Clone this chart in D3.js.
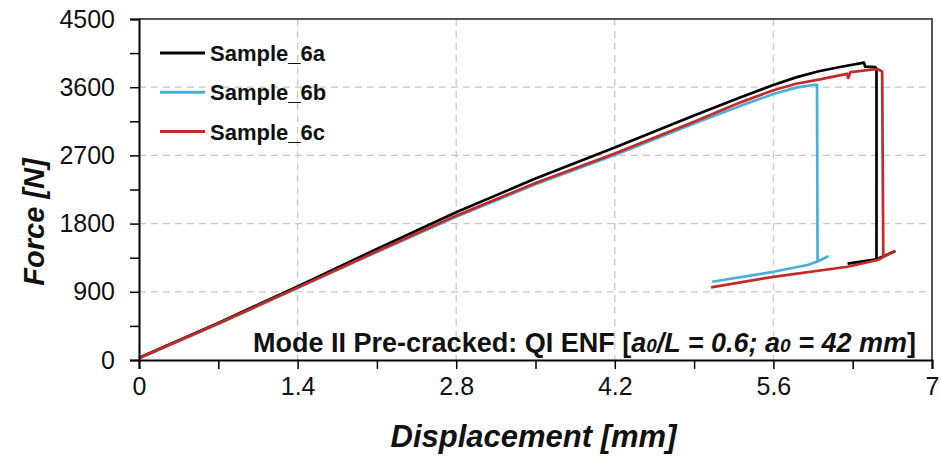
<!DOCTYPE html>
<html>
<head>
<meta charset="utf-8">
<script src="https://cdn.jsdelivr.net/npm/d3@7"></script>
<style>
  body { margin: 0; background: #fff; }
  svg { font-family: "Liberation Sans", Arial, sans-serif; }
</style>
</head>
<body>
<div id="chart"></div>
<script>
// Force-displacement data
const seriesNames = ["Sample_6a", "Sample_6b", "Sample_6c"];
const seriesColors = ["#000000", "#4aaedb", "#c42a26"];

const disp6a = [0, 0.7, 1.4, 2.1, 2.8, 3.5, 4.2, 4.9, 5.3, 5.6, 5.8, 6.0, 6.2, 6.4, 6.41, 6.5, 6.51, 6.51, 6.667, 6.51, 6.255];
const force6a = [30, 490, 970, 1465, 1950, 2395, 2805, 3225, 3460, 3630, 3730, 3810, 3870, 3925, 3872, 3866, 3835, 1330, 1432, 1330, 1272];

const disp6b = [0, 0.7, 1.4, 2.1, 2.8, 3.5, 4.2, 4.9, 5.3, 5.6, 5.8, 5.96, 5.985, 5.99, 6.08, 5.99, 5.9, 5.6, 5.06];
const force6b = [20, 475, 950, 1425, 1890, 2320, 2705, 3120, 3350, 3510, 3595, 3632, 3630, 1300, 1365, 1300, 1254, 1164, 1033];

const disp6c = [0, 0.7, 1.4, 2.1, 2.8, 3.5, 4.2, 4.9, 5.3, 5.6, 5.8, 6.0, 6.25, 6.26, 6.28, 6.52, 6.56, 6.57, 6.667, 6.57, 6.52, 6.255, 5.6, 5.05];
const force6c = [25, 482, 955, 1435, 1905, 2335, 2725, 3145, 3395, 3560, 3645, 3700, 3775, 3722, 3800, 3840, 3805, 1360, 1435, 1360, 1320, 1231, 1098, 959];

const xTicks = [0, 0.7, 1.4, 2.1, 2.8, 3.5, 4.2, 4.9, 5.6, 6.3, 7];
const yTicks = [0, 450, 900, 1350, 1800, 2250, 2700, 3150, 3600, 4050, 4500];
const xLabelled = [0, 1.4, 2.8, 4.2, 5.6, 7];
const yLabelled = [0, 900, 1800, 2700, 3600, 4500];

const annotation = "Mode II Pre-cracked: QI ENF";

// Set up chart dimensions and margins
const margin = { top: 19, right: 9, bottom: 98, left: 139 };
const width = 941 - margin.left - margin.right;
const height = 458 - margin.top - margin.bottom;

const root = d3.select("#chart")
    .append("svg")
    .attr("width", 941)
    .attr("height", 458);

const svg = root.append("g")
    .attr("transform", `translate(${margin.left},${margin.top})`);

const x = d3.scaleLinear().domain([0, 7]).range([0, width]);
const y = d3.scaleLinear().domain([0, 4500]).range([height, 0]);

// dashed grid
svg.append("g").selectAll("line")
    .data(xLabelled.slice(1, -1))
    .join("line")
    .attr("x1", d => x(d)).attr("x2", d => x(d))
    .attr("y1", 0).attr("y2", height)
    .attr("stroke", "#c8c8c8").attr("stroke-width", 1.3)
    .attr("stroke-dasharray", "7,5");

svg.append("g").selectAll("line")
    .data(yLabelled.slice(1, -1))
    .join("line")
    .attr("x1", 0).attr("x2", width)
    .attr("y1", d => y(d)).attr("y2", d => y(d))
    .attr("stroke", "#c8c8c8").attr("stroke-width", 1.3)
    .attr("stroke-dasharray", "7,5");

// frame (top and right)
svg.append("path")
    .attr("d", `M0,0H${width}V${height}`)
    .attr("fill", "none")
    .attr("stroke", "#555").attr("stroke-width", 2);

// curves
const allSeries = [
    { name: seriesNames[0], color: seriesColors[0], xs: disp6a, ys: force6a },
    { name: seriesNames[1], color: seriesColors[1], xs: disp6b, ys: force6b },
    { name: seriesNames[2], color: seriesColors[2], xs: disp6c, ys: force6c }
];

const line = d3.line().x(d => x(d[0])).y(d => y(d[1]));

// draw order: blue, black, red (red on top in the reference)
[allSeries[1], allSeries[0], allSeries[2]].forEach(s => {
    svg.append("path")
        .datum(s.xs.map((v, i) => [v, s.ys[i]]))
        .attr("fill", "none")
        .attr("stroke", s.color)
        .attr("stroke-width", 2.7)
        .attr("stroke-linejoin", "round")
        .attr("d", line);
});

// Add x and y axes
const xAxis = svg.append("g")
    .attr("transform", `translate(0,${height})`)
    .call(d3.axisBottom(x).tickValues(xTicks).tickSize(9).tickPadding(8)
        .tickFormat(d => xLabelled.includes(d) ? String(d) : ""));

const yAxis = svg.append("g")
    .call(d3.axisLeft(y).tickValues(yTicks).tickSize(9).tickPadding(15)
        .tickFormat(d => yLabelled.includes(d) ? String(d) : ""));

[xAxis, yAxis].forEach(a => {
    a.select(".domain").attr("stroke", "#000").attr("stroke-width", 2);
    a.selectAll(".tick line").attr("stroke", "#000").attr("stroke-width", 1.5);
    a.selectAll("text")
        .attr("fill", "#111")
        .style("font-family", "'Liberation Sans', Arial, sans-serif")
        .style("font-size", "25px");
});

// axis titles
root.append("text")
    .attr("x", margin.left + width / 2 - 2)
    .attr("y", 447)
    .attr("text-anchor", "middle")
    .style("font-size", "31px")
    .style("font-weight", "bold")
    .style("font-style", "italic")
    .attr("fill", "#111")
    .text("Displacement [mm]");

root.append("text")
    .attr("transform", "translate(44,222) rotate(-90)")
    .attr("text-anchor", "middle")
    .style("font-size", "29px")
    .style("font-weight", "bold")
    .style("font-style", "italic")
    .attr("fill", "#111")
    .text("Force [N]");

// legend
const legend = svg.append("g").attr("transform", "translate(21,34)");
seriesNames.forEach((n, i) => {
    const g = legend.append("g").attr("transform", `translate(0,${i * 39.3})`);
    g.append("line")
        .attr("x1", 0).attr("x2", 45)
        .attr("stroke", seriesColors[i]).attr("stroke-width", 3);
    g.append("text")
        .attr("x", 50).attr("y", 8)
        .style("font-size", "22px")
        .style("font-weight", "bold")
        .attr("fill", "#111")
        .text(n);
});

// annotation
const ann = svg.append("text")
    .attr("x", width - 16)
    .attr("y", 333)
    .attr("text-anchor", "end")
    .style("font-size", "27px")
    .style("font-weight", "bold")
    .attr("fill", "#111");
ann.append("tspan").text(annotation + " [");
ann.append("tspan").style("font-style", "italic").text("a");
ann.append("tspan").style("font-style", "italic").style("font-size", "19px").text("0");
ann.append("tspan").style("font-style", "italic").text("/L = 0.6; a");
ann.append("tspan").style("font-style", "italic").style("font-size", "19px").text("0");
ann.append("tspan").style("font-style", "italic").text(" = 42 mm");
ann.append("tspan").text("]");
</script>
</body>
</html>
